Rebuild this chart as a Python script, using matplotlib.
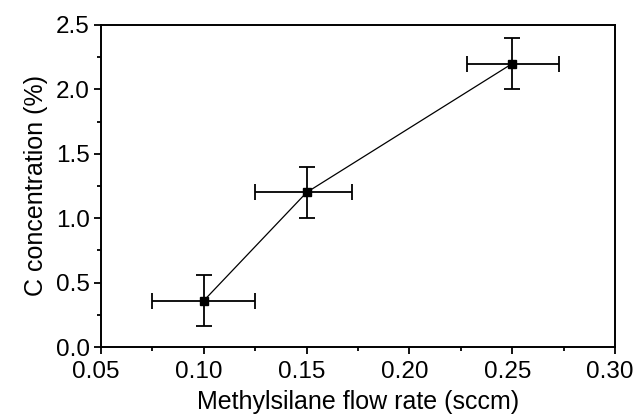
import matplotlib
matplotlib.use('Agg')
import matplotlib.pyplot as plt
import matplotlib.transforms as mtransforms
from matplotlib.ticker import MultipleLocator

plt.rcParams['font.family'] = ['Liberation Sans', 'DejaVu Sans']

# dados
flow_rate = [0.10, 0.15, 0.25]
c_conc = [0.36, 1.20, 2.20]
x_err_low = [0.025, 0.025, 0.022]
x_err_high = [0.025, 0.022, 0.023]
y_err = [0.20, 0.20, 0.20]

fig = plt.figure(figsize=(6.37, 4.19), dpi=100)
ax = fig.add_axes([101 / 637, 1 - 347 / 419, 514 / 637, 322 / 419])

ax.errorbar(flow_rate, c_conc, xerr=[x_err_low, x_err_high], yerr=y_err,
            color='black', linewidth=0.9, marker='s', markersize=6,
            elinewidth=1.3, capsize=6, capthick=1.3)

ax.set_xlim(0.05, 0.30)
ax.set_ylim(0.0, 2.5)
ax.xaxis.set_major_locator(MultipleLocator(0.05))
ax.xaxis.set_minor_locator(MultipleLocator(0.025))
ax.yaxis.set_major_locator(MultipleLocator(0.5))
ax.yaxis.set_minor_locator(MultipleLocator(0.25))
ax.set_xticklabels([f'{v:.2f}' for v in ax.get_xticks()])
ax.set_yticklabels([f'{v:.1f}' for v in ax.get_yticks()])

ax.tick_params(which='major', direction='out', length=5, width=1.3,
               labelsize=17.5)
ax.tick_params(axis='x', which='major', pad=5)
ax.tick_params(axis='y', which='major', pad=3)
ax.tick_params(which='minor', direction='out', length=3, width=1.3)
for s in ax.spines.values():
    s.set_linewidth(1.4)

# rótulos do eixo x ligeiramente deslocados para a esquerda, como no original
offset = mtransforms.ScaledTranslation(-5 / 100, 0, fig.dpi_scale_trans)
for lbl in ax.get_xticklabels():
    lbl.set_transform(lbl.get_transform() + offset)

ax.set_xlabel('Methylsilane flow rate (sccm)', fontsize=18, labelpad=5)
ax.set_ylabel('C concentration (%)', fontsize=18, labelpad=6)

plt.savefig('out.png', dpi=100)
